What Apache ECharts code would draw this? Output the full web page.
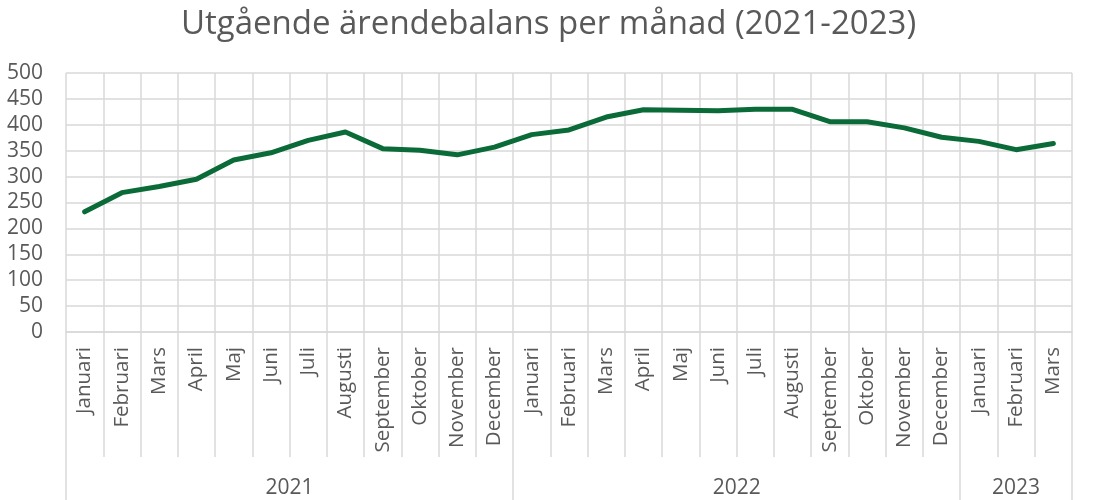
<!DOCTYPE html>
<html>
<head>
    <meta charset="utf-8">
    <title>Utgående ärendebalans</title>
    <script src="https://cdn.jsdelivr.net/npm/echarts@6/dist/echarts.min.js"></script>
</head>
<body style="margin:0">
    <div id="main" style="width:1097px;height:500px;"></div>
    <script type="text/javascript">
        // data
        var years = ['2021', '2022', '2023'];
        var months2021 = ['Januari', 'Februari', 'Mars', 'April', 'Maj', 'Juni', 'Juli', 'Augusti', 'September', 'Oktober', 'November', 'December'];
        var months2022 = ['Januari', 'Februari', 'Mars', 'April', 'Maj', 'Juni', 'Juli', 'Augusti', 'September', 'Oktober', 'November', 'December'];
        var months2023 = ['Januari', 'Februari', 'Mars'];
        var values2021 = [232, 269, 281, 295, 332, 346, 370, 386, 354, 351, 342, 357];
        var values2022 = [381, 390, 415, 429, 428, 427, 430, 430, 406, 406, 394, 376];
        var values2023 = [368, 352, 364];
        var yTicks = [0, 50, 100, 150, 200, 250, 300, 350, 400, 450, 500];

        var categories = months2021.concat(months2022, months2023);
        var values = values2021.concat(values2022, values2023);

        // year group boundaries and centres on the category scale
        var counts = [months2021.length, months2022.length, months2023.length];
        var bounds = [0], centres = [];
        for (var i = 0; i < counts.length; i++) {
            centres.push(bounds[i] + counts[i] / 2);
            bounds.push(bounds[i] + counts[i]);
        }

        var textColor = '#595959';
        var gridColor = '#d9d9d9';
        var font = 'Open Sans';

        var chart = echarts.init(document.getElementById('main'));
        var option = {
            animation: false,
            title: {
                text: 'Utgående ärendebalans per månad (2021-2023)',
                left: 'center',
                top: 3,
                textStyle: { color: textColor, fontSize: 33, fontWeight: 'normal', fontFamily: font }
            },
            grid: { left: 66, right: 25, top: 73, bottom: 168 },
            xAxis: [
                {
                    type: 'category',
                    data: categories,
                    boundaryGap: true,
                    axisLine: { show: true, lineStyle: { color: gridColor, width: 1.5 } },
                    axisTick: { show: true, interval: 0, length: 125, lineStyle: { color: gridColor, width: 1.5 } },
                    splitLine: { show: true, interval: 0, lineStyle: { color: gridColor, width: 1.5 } },
                    axisLabel: { interval: 0, rotate: 90, margin: 15, color: textColor, fontSize: 20.5, fontFamily: font }
                },
                {
                    type: 'value',
                    position: 'bottom',
                    offset: 125,
                    min: 0,
                    max: bounds[bounds.length - 1],
                    axisLine: { show: false },
                    splitLine: { show: false },
                    axisTick: { show: true, length: 43, customValues: bounds, lineStyle: { color: gridColor, width: 1.5 } },
                    axisLabel: {
                        customValues: centres,
                        margin: 21,
                        color: textColor,
                        fontSize: 21,
                        fontFamily: font,
                        formatter: function (v) {
                            var idx = centres.indexOf(v);
                            return idx >= 0 ? years[idx] : '';
                        }
                    }
                }
            ],
            yAxis: {
                type: 'value',
                min: yTicks[0],
                max: yTicks[yTicks.length - 1],
                interval: 50,
                axisLine: { show: false },
                axisTick: { show: false },
                splitLine: { lineStyle: { color: gridColor, width: 1.5 } },
                axisLabel: { margin: 23, color: textColor, fontSize: 21, fontFamily: font }
            },
            series: [{
                type: 'line',
                data: values,
                xAxisIndex: 0,
                symbol: 'none',
                lineStyle: { color: '#0b6b38', width: 5, cap: 'round', join: 'round' }
            }]
        };
        chart.setOption(option);
    </script>
</body>
</html>
